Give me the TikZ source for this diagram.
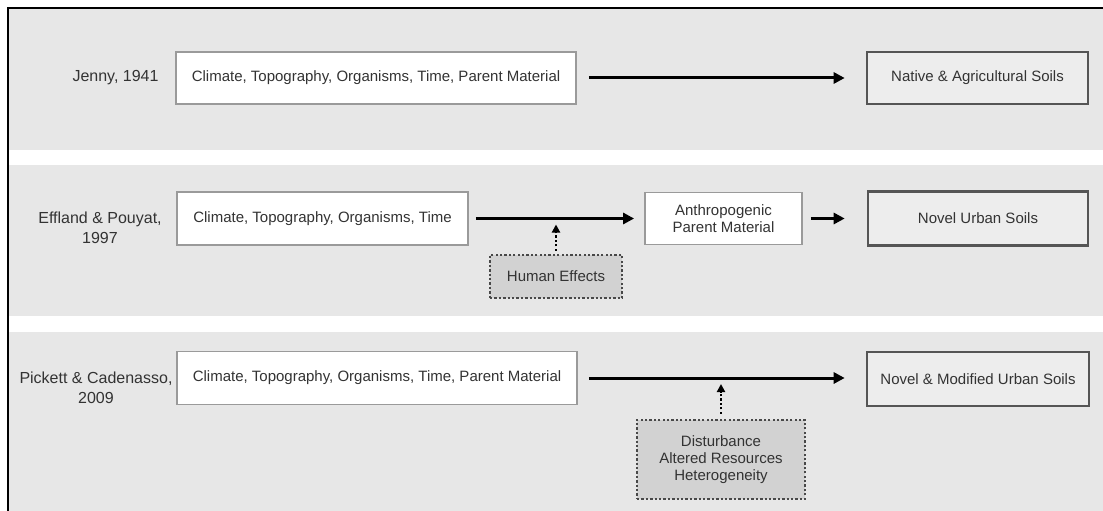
\documentclass[tikz,border=0pt]{standalone}
\usepackage{fontspec}
\setmainfont{Liberation Sans}
\usetikzlibrary{arrows.meta}
\definecolor{panel}{HTML}{E7E7E7}
\definecolor{srcborder}{HTML}{9A9A9A}
\definecolor{resborder}{HTML}{555555}
\definecolor{resfill}{HTML}{EDEDED}
\definecolor{effill}{HTML}{D2D2D2}
\definecolor{efborder}{HTML}{484848}
\definecolor{labeltext}{HTML}{333333}
\tikzset{
  every node/.style={font=\fontsize{15}{17.3}\selectfont, text=labeltext, inner sep=0pt},
  srcbox/.style={draw=srcborder, line width=1.8pt, fill=white, align=center},
  resbox/.style={draw=resborder, line width=2.6pt, fill=resfill, align=center},
  effbox/.style={draw=efborder, line width=2.3pt, dash pattern=on 2.3pt off 2.1pt, fill=effill, align=center},
  lbl/.style={align=center, font=\fontsize{16}{19.5}\selectfont},
  mainarrow/.style={line width=3pt, -{Triangle[length=11pt, width=11pt]}},
  dotarrow/.style={line width=2.3pt, dash pattern=on 2.3pt off 2.1pt, -{Triangle[length=8pt, width=8pt]}}
}
\begin{document}
\begin{tikzpicture}[x=1pt, y=-1pt]
\useasboundingbox (0,0) rectangle (1103,511);
\fill[white] (0,0) rectangle (1103,511);
% panels
\fill[panel] (9,9) rectangle (1103,150);
\fill[panel] (9,165) rectangle (1103,316);
\fill[panel] (9,332) rectangle (1103,511);
% frame
\draw[line width=2pt, black] (8,511) -- (8,8) -- (1103,8);

% row 1
\node[lbl] (lj) at (115.5,78) {Jenny, 1941};
\node[srcbox, minimum width=400pt, minimum height=52pt] (j1) at (376,78) {Climate, Topography, Organisms, Time, Parent Material};
\node[resbox, minimum width=221pt, minimum height=52pt] (j2) at (977.5,78) {Native \& Agricultural Soils};
\draw[mainarrow, shorten <=12pt, shorten >=21pt] (j1) -- (j2);

% row 2
\node[lbl] (le) at (100,228) {Effland \& Pouyat,\\1997};
\node[srcbox, minimum width=291pt, minimum height=53pt] (e1) at (322.5,218.5) {Climate, Topography, Organisms, Time};
\node[srcbox, minimum width=157pt, minimum height=52pt] (e2) at (723.5,218.5) {Anthropogenic\\Parent Material};
\node[resbox, minimum width=220pt, minimum height=54pt] (e3) at (978,218.5) {Novel Urban Soils};
\node[effbox, minimum width=132pt, minimum height=43pt] (he) at (556,276.5) {Human Effects};
\draw[mainarrow, shorten <=7pt, shorten >=10pt] (e1) -- (e2);
\draw[mainarrow, shorten <=8pt, shorten >=22pt] (e2) -- (e3);
\draw[dotarrow, shorten <=3pt, shorten >=6pt] (he.north) -- (he.north |- e1.east);

% row 3
\node[lbl] (lp) at (96,388) {Pickett \& Cadenasso,\\2009};
\node[srcbox, minimum width=400pt, minimum height=53pt] (p1) at (377,378) {Climate, Topography, Organisms, Time, Parent Material};
\node[resbox, minimum width=222pt, minimum height=54pt] (p2) at (978,379) {Novel \& Modified Urban Soils};
\node[effbox, minimum width=168pt, minimum height=79pt] (di) at (721,459.5) {Disturbance\\Altered Resources\\Heterogeneity};
\draw[mainarrow, shorten <=11pt, shorten >=21pt] (p1) -- (p1 -| p2.west);
\draw[dotarrow, shorten <=5pt, shorten >=6pt] (di.north) -- (di.north |- p1.east);
\end{tikzpicture}
\end{document}
